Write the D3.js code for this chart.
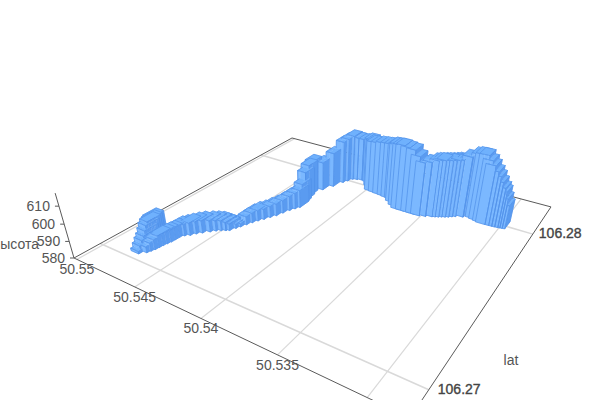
<!DOCTYPE html>
<html><head><meta charset="utf-8">
<style>html,body{margin:0;padding:0;background:#fff}svg{display:block}text{font-family:"Liberation Sans",Arial,sans-serif;font-size:14px;fill:#555}</style>
<script src="https://cdnjs.cloudflare.com/ajax/libs/d3/7.8.5/d3.min.js"></script>
</head><body><svg id="c" width="600" height="400"></svg>
<script>
const lonValues=[50.54836,50.54826,50.54816,50.54807,50.54798,50.54790,50.54784,50.54778,50.54771,
50.54739,50.54731,50.54723,50.54720,50.54716,50.54710,50.54704,50.54702,50.54701,50.54685,50.54660,50.54640,50.54615,50.54583,
50.54559,50.54534,50.54509,50.54490,50.54474,50.54460,50.54445,50.54430,50.54413,50.54393,
50.54373,50.54353,50.54338,50.54321,50.54303,50.54287,50.54298,50.54313,50.54328,50.54342,
50.54300,50.54265,50.54239,50.54222,50.54204,50.54174,50.54140,50.54094,50.54063,50.54025,
50.53984,50.53947,50.53907,50.53867,50.53832,50.53801,50.53773,50.53730,50.53693,50.53657,
50.53616,50.53579,50.53541,50.53502,50.53462,50.53443,50.53424,50.53405,50.53386,50.53367,
50.53348,50.53330,50.53285,50.53237,50.53210,50.53181,50.53150,50.53125,50.53100,50.53080,
50.53060,50.53040,50.53027,50.53012,50.52997];
const latValues=[106.27180,106.27166,106.27152,106.27138,106.27124,106.27110,106.27096,106.27081,106.27066,
106.27088,106.27104,106.27120,106.27139,106.27158,106.27175,106.27193,106.27214,106.27236,106.27255,106.27270,106.27291,106.27310,106.27333,
106.27351,106.27365,106.27375,106.27384,106.27411,106.27430,106.27457,106.27483,106.27507,106.27531,
106.27558,106.27584,106.27617,106.27651,106.27675,106.27697,106.27725,106.27765,106.27805,106.27848,
106.27890,106.27945,106.28004,106.28029,106.28057,106.28066,106.28074,106.28078,106.28069,106.28039,
106.28000,106.27996,106.27992,106.27989,106.27984,106.27981,106.27959,106.27934,106.27915,106.27915,
106.27915,106.27915,106.27915,106.27925,106.27938,106.27944,106.27951,106.27959,106.27966,106.27974,
106.27984,106.27994,106.28008,106.28022,106.28019,106.28012,106.28006,106.28000,106.28001,106.28002,
106.28003,106.28005,106.28007,106.28009,106.28011];
const heights=[592,592,592,591,589,587,585.5,583.5,581.5,
583.5,585,586,587,587,587,587,587,587,587,587.5,587.5,587.5,587,
586.5,586,585,584,582.5,582,585,586,586.5,586.5,
587,587.5,588,589,590,591,593,598,600,600,
598,602,607,608,609,608,607.5,607.5,609,610,
612,612.5,613.5,614,614.5,615,617,618.5,620,619.5,
619,616,613,613.6,614.7,615,615,615,615,615,
615,615,617,618.7,619.5,620,618,616,613,610.5,
607.5,604.5,602.5,598.5,594.6];
const lonTicks=[50.55,50.545,50.54,50.535,50.53];
const latTicks=[106.27,106.28];
const heightTicks=[580,590,600,610];
const latLabelGap=[9,6];

const U=d3.scaleLinear().domain([50.55027,50.52788]).range([0,1]);
const V=d3.scaleLinear().domain([106.2688,106.2827]).range([0,1]);
const H=d3.scaleLinear().domain([580,620]).range([0,40]);
const HALF_U=0.015, HALF_V=0.025;
const P=[[219.7,349.9,-0.617,74],[41.4,-57.7,-2.13,258],[-0.2836,0.4517,-0.00195,1]];
function proj(u,v,h){const w=P[2][0]*u+P[2][1]*v+P[2][2]*h+P[2][3];
 return [(P[0][0]*u+P[0][1]*v+P[0][2]*h+P[0][3])/w,(P[1][0]*u+P[1][1]*v+P[1][2]*h+P[1][3])/w];}
const depth=(u,v,h)=>P[2][0]*u+P[2][1]*v+P[2][2]*h+1;
const svg=d3.select("#c");
const seg=(a,b,col,w)=>svg.append("line").attr("x1",a[0]).attr("y1",a[1]).attr("x2",b[0]).attr("y2",b[1]).attr("stroke",col).attr("stroke-width",w);

const GRID="#d9d9d9",AX="#5a5a5a";
lonTicks.forEach(t=>seg(proj(U(t),0,0),proj(U(t),1,0),GRID,1.2));
latTicks.forEach(t=>seg(proj(0,V(t),0),proj(1,V(t),0),GRID,1.5));
[[0,0,1,0],[1,0,1,1],[1,1,0,1],[0,1,0,0]].forEach(q=>seg(proj(q[0],q[1],0),proj(q[2],q[3],0),AX,1));
seg(proj(0,0,0),proj(0,0,H(617)),AX,1);

const boxes=lonValues.map((x,i)=>{const u=U(x),v=V(latValues[i]);
 return {u0:u-HALF_U,u1:u+HALF_U,v0:v-HALF_V,v1:v+HALF_V,h:H(heights[i])};});
const COL={left:"#7bb8ff",right:"#5a9bf0",top:"#6fb1fd"},EDGE="#4f8fe8";
const cells=[];
const uniq=a=>Array.from(new Set(a)).sort((p,q)=>p-q);
boxes.forEach((b,i)=>{
 const others=boxes.filter((o,j)=>j!==i);
 {const near=others.filter(o=>o.v0<b.v0&&o.v1>b.v0&&o.u1>b.u0&&o.u0<b.u1);
  const br=uniq([b.u0,b.u1,...near.flatMap(o=>[o.u0,o.u1]).filter(s=>s>b.u0&&s<b.u1)]);
  d3.pairs(br).forEach(([a,c])=>{const m=(a+c)/2;
   const top=d3.max(near.filter(o=>o.u0<m&&o.u1>m),o=>o.h)||0;
   if(top>=b.h)return;
   const pts=[[a,b.v0,top],[c,b.v0,top],[c,b.v0,b.h],[a,b.v0,b.h]];
   const e=[[pts[3],pts[2]]];if(top===0)e.push([pts[0],pts[1]]);
   if(a===b.u0)e.push([pts[0],pts[3]]);if(c===b.u1)e.push([pts[1],pts[2]]);
   cells.push({pts,e,fill:COL.left,d:depth(m,b.v0,(top+b.h)/2)});});}
 {const near=others.filter(o=>o.u0<b.u1&&o.u1>b.u1&&o.v1>b.v0&&o.v0<b.v1);
  const br=uniq([b.v0,b.v1,...near.flatMap(o=>[o.v0,o.v1]).filter(s=>s>b.v0&&s<b.v1)]);
  d3.pairs(br).forEach(([a,c])=>{const m=(a+c)/2;
   const top=d3.max(near.filter(o=>o.v0<m&&o.v1>m),o=>o.h)||0;
   if(top>=b.h)return;
   const pts=[[b.u1,a,top],[b.u1,c,top],[b.u1,c,b.h],[b.u1,a,b.h]];
   const e=[[pts[3],pts[2]]];if(top===0)e.push([pts[0],pts[1]]);
   if(a===b.v0)e.push([pts[0],pts[3]]);if(c===b.v1)e.push([pts[1],pts[2]]);
   cells.push({pts,e,fill:COL.right,d:depth(b.u1,m,(top+b.h)/2)});});}
 {const near=others.filter(o=>o.h>b.h&&o.u1>b.u0&&o.u0<b.u1&&o.v1>b.v0&&o.v0<b.v1);
  const bu=uniq([b.u0,b.u1,...near.flatMap(o=>[o.u0,o.u1]).filter(s=>s>b.u0&&s<b.u1)]);
  const bv=uniq([b.v0,b.v1,...near.flatMap(o=>[o.v0,o.v1]).filter(s=>s>b.v0&&s<b.v1)]);
  d3.pairs(bu).forEach(([a,c])=>d3.pairs(bv).forEach(([p,q])=>{
   const mu=(a+c)/2,mv=(p+q)/2;
   if(near.some(o=>o.u0<mu&&o.u1>mu&&o.v0<mv&&o.v1>mv))return;
   const pts=[[a,p,b.h],[c,p,b.h],[c,q,b.h],[a,q,b.h]];const e=[];
   if(p===b.v0)e.push([pts[0],pts[1]]);if(q===b.v1)e.push([pts[3],pts[2]]);
   if(a===b.u0)e.push([pts[0],pts[3]]);if(c===b.u1)e.push([pts[1],pts[2]]);
   cells.push({pts,e,fill:COL.top,d:depth(mu,mv,b.h)});}));}
});
cells.sort((a,b)=>b.d-a.d);
const line=d3.line();
const pj=p=>proj(p[0],p[1],p[2]);
const g=svg.append("g");
cells.forEach(c=>{
 g.append("path").attr("fill",c.fill).attr("stroke",c.fill).attr("stroke-width",0.4).attr("d",line(c.pts.map(pj))+"Z");
 if(c.e.length)g.append("path").attr("fill","none").attr("stroke",EDGE).attr("stroke-width",0.7)
  .attr("d",c.e.map(s=>line(s.map(pj))).join(""));
});

const T=(x,y,s,a)=>svg.append("text").attr("x",x).attr("y",y).attr("text-anchor",a||"middle").attr("dominant-baseline","central").text(s);
lonTicks.forEach(t=>{const p=proj(U(t),0,0);if(p[1]+16<400)T(p[0],p[1]+10,String(t));});
heightTicks.forEach(t=>{const p=proj(0,0,H(t));seg(p,[p[0]-4,p[1]],AX,1);T(p[0]-9,p[1],String(t),"end");});
latTicks.forEach((t,i)=>{const p=proj(1,V(t),0);T(p[0]+latLabelGap[i],p[1]-1,String(t),"start").style("fill","#444").style("stroke","#444").style("stroke-width",0.35);});
T(39,244,"высота","end");
T(511,360,"lat");
</script></body></html>
